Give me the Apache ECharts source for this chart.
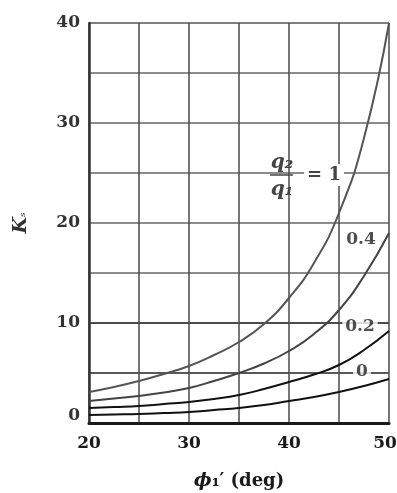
<!DOCTYPE html>
<html>
<head>
<meta charset="utf-8">
<script src="https://cdn.jsdelivr.net/npm/echarts@6/dist/echarts.min.js"></script>
<style>
  html, body { margin: 0; padding: 0; background: #fff; }
  #chart { width: 397px; height: 493px; }
</style>
</head>
<body>
<div id="chart"></div>
<script>
// friction angle (deg) and Ks, one array per q2/q1 curve
const phi = [20, 22.5, 25, 27.5, 30, 32.5, 35, 37.5, 40, 42.5, 45, 47.5, 50]
const ksRatio1 = [3.1, 3.6, 4.2, 4.9, 5.7, 6.8, 8.1, 9.9, 12.5, 16.0, 21.0, 28.5, 40.0]
const ksRatio04 = [2.2, 2.45, 2.7, 3.05, 3.5, 4.2, 5.0, 5.95, 7.2, 8.9, 11.3, 14.7, 19.0]
const ksRatio02 = [1.5, 1.6, 1.7, 1.9, 2.1, 2.4, 2.8, 3.4, 4.1, 4.85, 5.8, 7.3, 9.2]
const ksRatio0 = [0.8, 0.85, 0.9, 1.0, 1.1, 1.3, 1.5, 1.8, 2.2, 2.6, 3.1, 3.7, 4.4]

const xTicks = [20, 30, 40, 50]
const yTicks = [0, 10, 20, 30, 40]

// curve labels placed in data coordinates
const curveLabels = ["0.4", "0.2", "0"]
const curveLabelPhi = [47.2, 47.1, 47.3]
const curveLabelKs = [18.3, 9.6, 5.1]

const serif = "DejaVu Serif"
const ink = "#1a1a1a"

const chart = echarts.init(document.getElementById("chart"))

const pairs = (ys) => phi.map((x, i) => [x, ys[i]])

const curve = (name, ys, color) => ({
  name: name,
  type: "line",
  data: pairs(ys),
  smooth: true,
  symbol: "none",
  lineStyle: { width: 2, color: color },
  z: 3,
})

const textPoint = (x, y, text, style) => ({
  coord: [x, y],
  value: text,
  label: Object.assign({ show: true, position: "inside", formatter: text }, style),
})

const tickFont = { fontFamily: serif, fontWeight: "bold", fontSize: 17 }

const option = {
  animation: false,
  backgroundColor: "#fff",
  grid: { left: 89, right: 8, top: 23, bottom: 70, outerBoundsMode: "none" },
  xAxis: {
    type: "value",
    min: 20,
    max: 50,
    interval: 5,
    name: "{i|ϕ}{n|₁′ (deg)}",
    nameLocation: "middle",
    nameGap: 49,
    nameTextStyle: {
      rich: {
        i: { fontFamily: serif, fontStyle: "italic", fontWeight: "bold", fontSize: 19, color: ink },
        n: { fontFamily: serif, fontWeight: "bold", fontSize: 18, color: ink },
      },
    },
    axisLine: { show: true, onZero: false, lineStyle: { color: ink, width: 3 } },
    axisTick: { show: false },
    axisLabel: Object.assign({}, tickFont, {
      margin: 12,
      color: ink,
      formatter: (v) => {
        if (v === 50) return "{e|50}"
        return xTicks.includes(v) ? String(v) : ""
      },
      rich: {
        e: Object.assign({}, tickFont, { color: ink, padding: [0, 8, 0, 0] }),
      },
    }),
    splitLine: { show: true, lineStyle: { color: "#4a4a4a", width: 1.5 } },
  },
  yAxis: {
    type: "value",
    min: 0,
    max: 40,
    interval: 5,
    name: "{i|K}{s|ₛ}",
    nameLocation: "middle",
    nameGap: 58,
    nameTextStyle: {
      rich: {
        i: { fontFamily: serif, fontStyle: "italic", fontWeight: "bold", fontSize: 19, color: "#333" },
        s: { fontFamily: serif, fontStyle: "italic", fontSize: 14, color: "#333" },
      },
    },
    axisLine: { show: true, onZero: false, lineStyle: { color: "#333", width: 2.5 } },
    axisTick: { show: false },
    axisLabel: Object.assign({}, tickFont, {
      margin: 9,
      color: "#333",
      formatter: (v) => {
        if (v === 0) return "{z|0}"
        return yTicks.includes(v) ? String(v) : ""
      },
      rich: {
        z: Object.assign({}, tickFont, { color: "#333", padding: [0, 0, 14, 0] }),
      },
    }),
    splitLine: {
      show: true,
      lineStyle: {
        color: ["#111", "#222", "#111", "#666", "#666", "#666", "#666", "#666", "#555"],
        width: 1.5,
      },
    },
  },
  series: [
    curve("1", ksRatio1, "#555"),
    curve("0.4", ksRatio04, "#444"),
    curve("0.2", ksRatio02, "#111"),
    curve("0", ksRatio0, "#111"),
    {
      name: "labels",
      type: "scatter",
      symbolSize: 0,
      silent: true,
      z: 5,
      data: curveLabels.map((t, i) => [curveLabelPhi[i], curveLabelKs[i], t]),
      label: {
        show: true,
        position: "inside",
        formatter: (p) => p.value[2],
        fontFamily: serif,
        fontWeight: "bold",
        fontSize: 17,
        color: "#222",
        backgroundColor: "#fff",
        padding: [1, 3],
      },
    },
    {
      name: "ratio",
      type: "line",
      data: [],
      silent: true,
      markPoint: {
        symbol: "circle",
        symbolSize: 0,
        data: [
          textPoint(39.3, 26.0, "q₂", { fontFamily: serif, fontStyle: "italic", fontWeight: "bold", fontSize: 20, color: "#444" }),
          textPoint(39.3, 23.3, "q₁", { fontFamily: serif, fontStyle: "italic", fontWeight: "bold", fontSize: 20, color: "#444" }),
          textPoint(43.5, 24.8, "= 1", {
            fontFamily: serif,
            fontWeight: "bold",
            fontSize: 18,
            color: "#444",
            backgroundColor: "#fff",
            padding: [2, 3],
          }),
        ],
      },
      markLine: {
        symbol: "none",
        label: { show: false },
        lineStyle: { type: "solid", color: "#444", width: 1.5 },
        data: [[{ coord: [38.1, 24.8] }, { coord: [40.4, 24.8] }]],
      },
    },
  ],
}

chart.setOption(option)
</script>
</body>
</html>
